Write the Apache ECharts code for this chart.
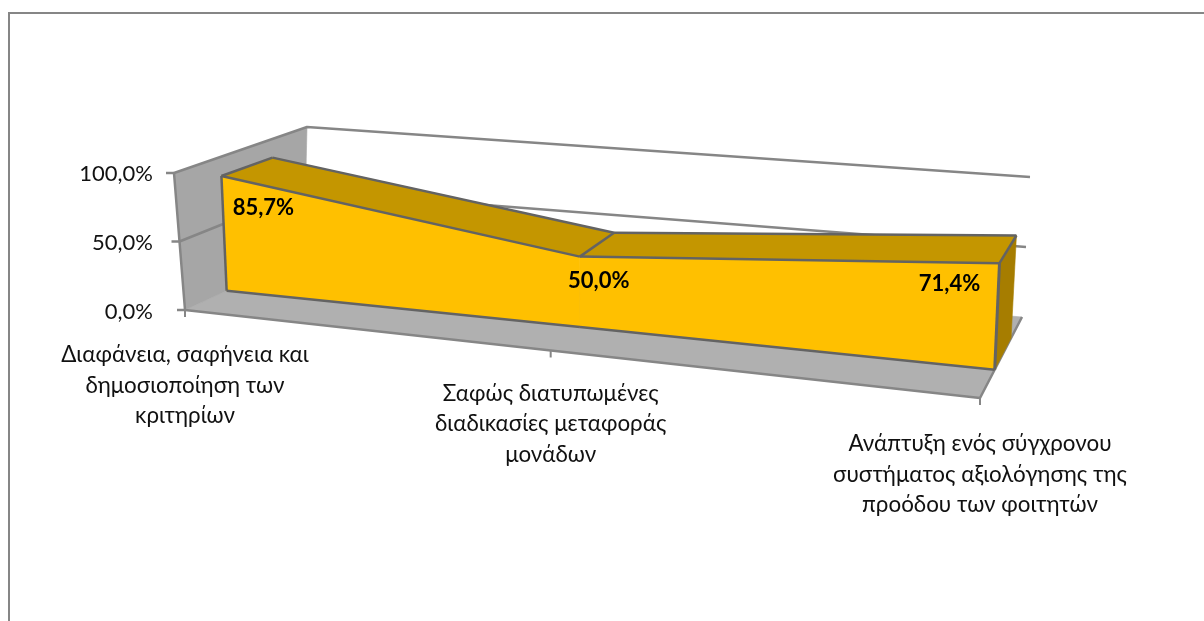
<!DOCTYPE html>
<html>
<head>
<meta charset="utf-8">
<style>html,body{margin:0;padding:0;background:#fff}#c{width:1204px;height:621px}</style>
<script src="https://cdn.jsdelivr.net/npm/echarts@6/dist/echarts.min.js"></script>
</head>
<body>
<div id="c"></div>
<script>
// ---- data ----
const categories = [
  'Διαφάνεια, σαφήνεια και\nδημοσιοποίηση των\nκριτηρίων',
  'Σαφώς διατυπωμένες\nδιαδικασίες μεταφοράς\nμονάδων',
  'Ανάπτυξη ενός σύγχρονου\nσυστήματος αξιολόγησης της\nπροόδου των φοιτητών'
];
const values = [85.7, 50.0, 71.4];
const valueTicks = [0, 50, 100];
const valueLabels = ['85,7%', '50,0%', '71,4%'];

// ---- 3D look: where the unit box of the plot lands on the page ----
const box = {
  fbl: [185, 310], fbr: [980, 398], ftl: [174, 173], ftr: [986, 244],
  bbl: [304, 255], bbr: [1022, 317], btl: [307, 127], btr: [1030, 177]
};
const perspective = 1.174;       // horizontal foreshortening
const areaFront = 0.35, areaBack = 0.74;  // depth of the area ribbon inside the box
const GRID = { left: 165, top: 174, width: 800, height: 138 };
const labelOffsets = [[42, 32], [19, 24], [-50, 21]];
const labelDrops = [30, 28, 31];
const FONT = 'Lato, "Open Sans"';

const mix = (a, b, t) => [a[0] + (b[0] - a[0]) * t, a[1] + (b[1] - a[1]) * t];
function project(u, v, z) {
  const w = u / (u + perspective * (1 - u));
  const bottom = mix(mix(box.fbl, box.fbr, w), mix(box.bbl, box.bbr, w), z);
  const top = mix(mix(box.ftl, box.ftr, w), mix(box.btl, box.btr, w), z);
  return mix(bottom, top, v);
}
// data value -> axis pixel (library scales) -> box position -> page position
function place(api, cat, val, z) {
  const p = api.coord([cat, val]);
  return project((p[0] - GRID.left) / GRID.width, (GRID.top + GRID.height - p[1]) / GRID.height, z);
}

const GREY = '#868686', EDGE = '#636363';
const poly = (points, fill, z2) => ({ type: 'polygon', z2: z2 || 0, shape: { points }, style: { fill, stroke: fill, lineWidth: 0.6 } });
const line = (points, stroke, width, z2) => ({ type: 'polyline', z2: z2 || 0, shape: { points }, style: { fill: null, stroke, lineWidth: width, lineJoin: 'round' } });

function renderFrame(params, api) {
  const last = categories.length - 1, c = [];
  const P = (cat, val, z) => place(api, cat, val, z);
  // floor and left wall
  c.push(poly([P(0, 0, 0), P(0, 0, 1), P(last, 0, 1), P(last, 0, 0)], '#b0b0b0'));
  c.push(poly([P(0, 0, 0), P(0, 0, 1), P(0, 100, 1), P(0, 100, 0)], '#a6a6a6'));
  // grid lines running over the left wall and the back wall
  valueTicks.forEach(t => {
    if (t > 0) c.push(line([P(0, t, 0), P(0, t, 1), P(last, t, 1)], GREY, 2.5));
    const a = P(0, t, 0);
    c.push(line([[a[0] - 8, a[1]], a], GREY, 2.5));
  });
  // box edges
  c.push(line([P(0, 100, 0), P(0, 0, 0), P(last, 0, 0), P(last, 0, 1)], GREY, 2.5));
  // category ticks and labels
  categories.forEach((name, i) => {
    const a = P(i, 0, 0);
    c.push(line([a, [a[0], a[1] + 7]], GREY, 2));
    c.push({ type: 'text', style: {
      x: a[0], y: a[1] + labelDrops[i], text: name, align: 'center', verticalAlign: 'top',
      font: '22.4px ' + FONT, lineHeight: 30.5, fill: '#111111'
    }});
  });
  return { type: 'group', children: c };
}

function renderRibbon(params, api) {
  const i = params.dataIndex, last = values.length - 1, c = [];
  const val = api.value(1);
  const f = place(api, i, val, areaFront), b = place(api, i, val, areaBack);
  const f0 = place(api, i, 0, areaFront), b0 = place(api, i, 0, areaBack);
  if (i < last) {
    const nv = values[i + 1];
    const nf = place(api, i + 1, nv, areaFront), nb = place(api, i + 1, nv, areaBack);
    const nf0 = place(api, i + 1, 0, areaFront);
    c.push(poly([f, b, nb, nf], '#c49600', 1));
    c.push(poly([f, nf, nf0, f0], '#ffc000', 1));
    c.push(line([b, nb], EDGE, 2.5, 3));
    c.push(line([f0, nf0], EDGE, 2.5, 3));
    c.push(line([f, nf], EDGE, 2.5, 3));
    c.push(line([f, b], EDGE, 2.5, 3));
  } else {
    c.push(poly([f, b, b0, f0], '#a67d00', 2));
    c.push(line([f, b], EDGE, 2.5, 3));
    c.push(line([f, f0], EDGE, 3, 3));
  }
  if (i === 0) c.push(line([f, f0], EDGE, 2.5, 3));
  c.push({ type: 'text', z2: 5, style: {
    x: f[0] + labelOffsets[i][0], y: f[1] + labelOffsets[i][1], text: valueLabels[i],
    align: 'center', verticalAlign: 'middle', font: 'bold 22px ' + FONT, fill: '#000'
  }});
  return { type: 'group', children: c };
}

const chart = echarts.init(document.getElementById('c'), null, { renderer: 'canvas' });
chart.setOption({
  animation: false,
  backgroundColor: '#ffffff',
  grid: GRID,
  xAxis: { type: 'category', data: categories, boundaryGap: false, show: false },
  yAxis: {
    type: 'value', min: 0, max: 100, interval: 50,
    axisLine: { show: false }, axisTick: { show: false }, splitLine: { show: false },
    axisLabel: { margin: 12, fontFamily: 'Lato', fontSize: 22, color: '#111111',
      formatter: v => v.toFixed(1).replace('.', ',') + '%' }
  },
  graphic: [{ type: 'polyline', silent: true, shape: { points: [[9, 621], [9, 13], [1204, 13]] },
    style: { fill: null, stroke: GREY, lineWidth: 2 } }],
  series: [
    { type: 'custom', name: 'frame', coordinateSystem: 'cartesian2d', silent: true, z: 2,
      data: [[0, 0]], encode: { x: 0, y: 1 }, renderItem: renderFrame, clip: false },
    { type: 'custom', name: 'ribbon', coordinateSystem: 'cartesian2d', silent: true, z: 3,
      data: values.map((v, i) => [i, v]), encode: { x: 0, y: 1 }, renderItem: renderRibbon, clip: false }
  ]
});
</script>
</body>
</html>
